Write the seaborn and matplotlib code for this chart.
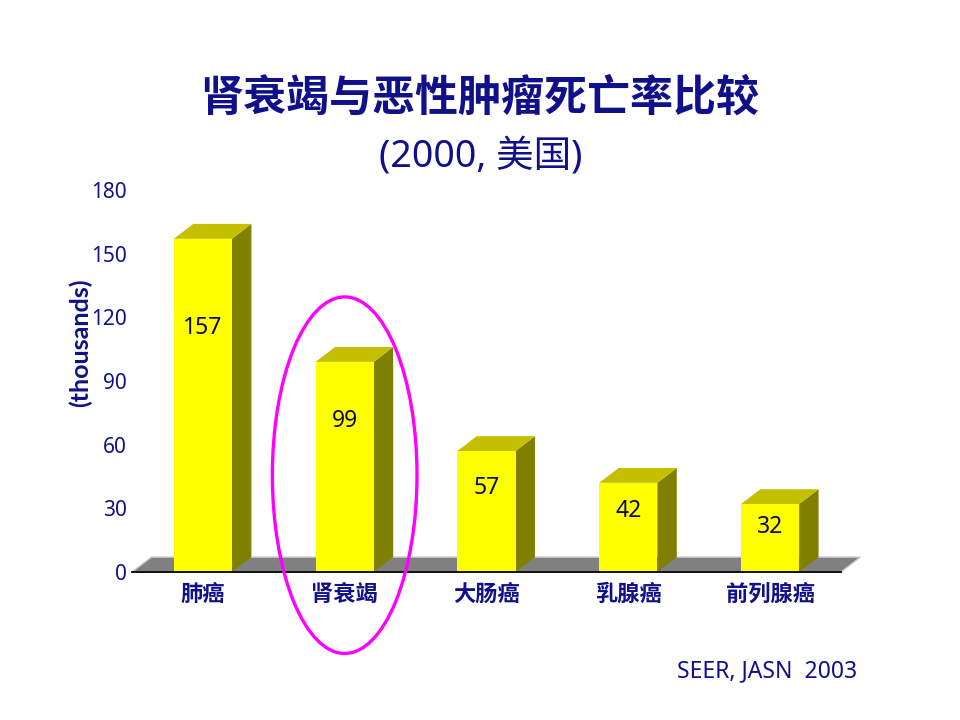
import matplotlib.pyplot as plt
import seaborn as sns
from matplotlib.patches import Polygon, Ellipse

# Data
categories = ['肺癌', '肾衰竭', '大肠癌', '乳腺癌', '前列腺癌']
deaths = [157, 99, 57, 42, 32]
highlight = '肾衰竭'
yticks = [0, 30, 60, 90, 120, 150, 180]

navy = '#10108a'
front = '#FFFF00'
top_c = '#C4C000'
side_c = '#808000'

sns.set_style('white')
plt.rcParams['font.family'] = ['Noto Sans', 'Noto Sans CJK SC', 'DejaVu Sans']

fig = plt.figure(figsize=(9.6, 7.2), dpi=100)
ax = fig.add_axes([0.1375, 0.2056, 0.7385, 0.5306])

sns.barplot(x=categories, y=deaths, color=front, saturation=1, width=0.41,
            edgecolor='none', linewidth=0, ax=ax, zorder=2)

ax.set_xlim(-0.5, 4.5)
ax.set_ylim(0, 180)

# 3D depth offsets (category units, data units)
dx, dy = 0.137, 7.0

# floor
floor = Polygon([(-0.5, 0), (4.5, 0), (4.5 + dx, dy), (-0.5 + dx, dy)],
                closed=True, facecolor='#808080', edgecolor='#c8c8c8', lw=1,
                zorder=0.5, clip_on=False)
ax.add_patch(floor)

for p, v in zip(list(ax.patches)[:len(deaths)], deaths):
    x0, w, h = p.get_x(), p.get_width(), p.get_height()
    side = Polygon([(x0 + w, 0), (x0 + w + dx, dy), (x0 + w + dx, h + dy), (x0 + w, h)],
                   closed=True, facecolor=side_c, edgecolor='none', zorder=1.5, clip_on=False)
    top = Polygon([(x0, h), (x0 + w, h), (x0 + w + dx, h + dy), (x0 + dx, h + dy)],
                  closed=True, facecolor=top_c, edgecolor='none', zorder=1.5, clip_on=False)
    ax.add_patch(side)
    ax.add_patch(top)
    ax.text(x0 + w / 2, 0.75 * v - 3, str(v), ha='center', va='center',
            fontsize=16.5, color='#0a0a45', zorder=3)

# highlight ellipse
hi = categories.index(highlight)
ax.add_patch(Ellipse((hi, 45.6), width=1.02, height=168, fill=False,
                     edgecolor='#FF00FF', lw=2.4, clip_on=False, zorder=5))

# axes styling
for s in ['left', 'right', 'top']:
    ax.spines[s].set_visible(False)
ax.spines['bottom'].set_color('black')
ax.spines['bottom'].set_linewidth(1.3)

ax.set_yticks(yticks)
ax.tick_params(axis='y', length=0, pad=4, labelsize=15, labelcolor=navy)
ax.tick_params(axis='x', which='major', length=0, pad=8, labelcolor=navy)
ax.set_xticks([-0.5, 0.5, 1.5, 2.5, 3.5], minor=True)
ax.tick_params(axis='x', which='minor', direction='in', length=4.5, width=1, color='black')
for lab in ax.get_xticklabels():
    lab.set_fontsize(16)
    lab.set_fontweight('bold')
    lab.set_family(['Noto Sans CJK SC', 'DejaVu Sans'])

ax.set_xlabel('')
ax.set_ylabel('(thousands)', fontsize=18, fontweight='bold', color=navy,
              family=['Lato', 'DejaVu Sans'])
ax.yaxis.set_label_coords(-0.056, 0.6)

fig.text(0.5, 0.865, '肾衰竭与恶性肿瘤死亡率比较', ha='center', va='center',
         fontsize=31, fontweight='bold', color=navy,
         family=['Noto Sans CJK SC', 'DejaVu Sans'])
fig.text(0.501, 0.782, '(2000, 美国)', ha='center', va='center',
         fontsize=27, color=navy)
fig.text(0.799, 0.068, 'SEER, JASN  2003', ha='center', va='center',
         fontsize=16.5, color=navy)

fig.savefig('out.png', dpi=100)
